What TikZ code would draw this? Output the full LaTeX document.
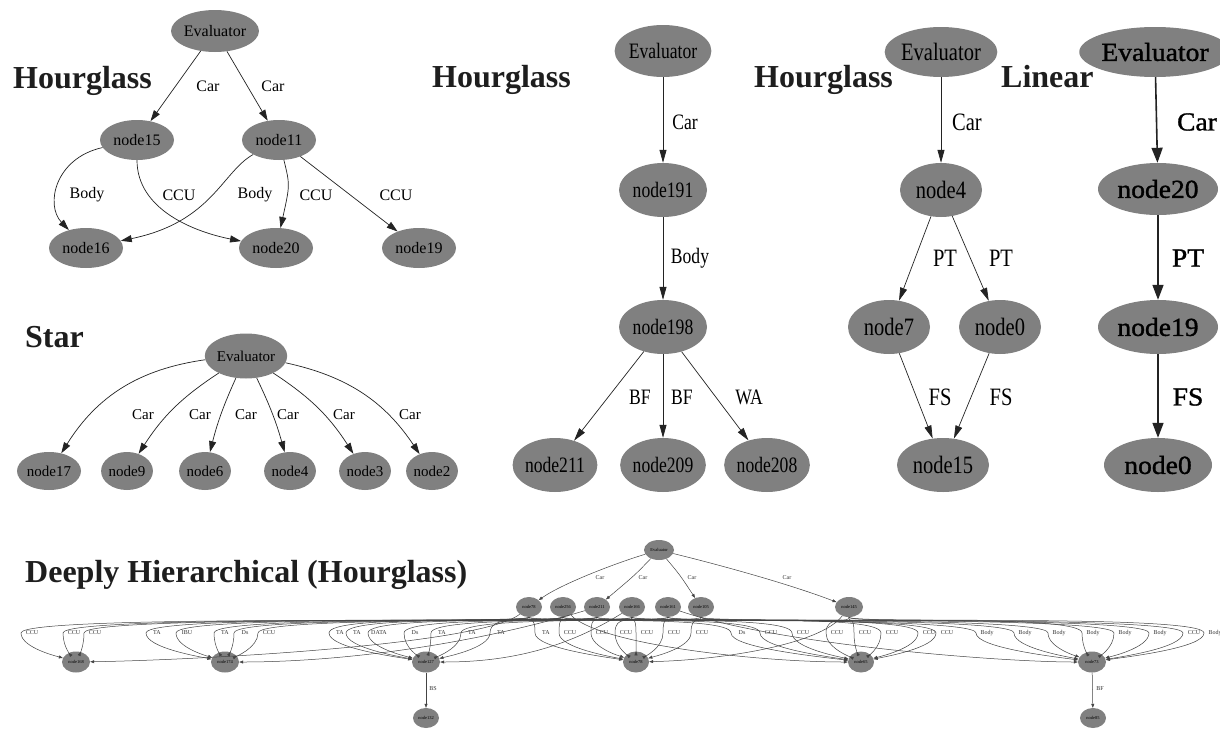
\documentclass[tikz,border=0pt]{standalone}
\usepackage{fontspec}
\setmainfont{Liberation Serif}
\newfontfamily\midfont[FakeStretch=0.8]{Liberation Serif}
\newfontfamily\thirdfont[FakeStretch=0.82]{Liberation Serif}
\newfontfamily\linfont[FakeStretch=1.06,FakeBold=1.2]{Liberation Serif}
\usetikzlibrary{shapes.geometric,arrows.meta,calc}
\definecolor{nodefill}{RGB}{128,128,128}
\definecolor{edgecol}{RGB}{35,35,35}
\definecolor{titlecol}{RGB}{30,30,30}

\tikzset{
  title/.style={font=\fontsize{32}{32}\selectfont\bfseries, anchor=base west, inner sep=0, text=titlecol},
  gnode/.style={ellipse, fill=nodefill, draw=none, inner sep=0, text=black},
  sz/.style 2 args={minimum width=#1pt, minimum height=#2pt},
  % small hourglass and star
  tlnode/.style={gnode, font=\fontsize{16}{16}\selectfont},
  tllab/.style={inner sep=0, font=\fontsize{16}{16}\selectfont},
  tledge/.style={draw=edgecol, line width=0.7pt, -{Triangle[length=11pt,width=7pt]}},
  stnode/.style={gnode, font=\fontsize{15}{15}\selectfont},
  stlab/.style={inner sep=0, font=\fontsize{15}{15}\selectfont},
  % tall hourglass
  midnode/.style={gnode, font=\midfont\fontsize{22}{22}\selectfont},
  midlab/.style={inner sep=0, font=\midfont\fontsize{22}{22}\selectfont},
  midedge/.style={draw=edgecol, line width=0.7pt, -{Triangle[length=13pt,width=7pt]}},
  % diamond hourglass
  thnode/.style={gnode, font=\thirdfont\fontsize{25}{25}\selectfont},
  thlab/.style={inner sep=0, font=\thirdfont\fontsize{25}{25}\selectfont},
  % linear chain
  linnode/.style={gnode, font=\linfont\fontsize{26}{26}\selectfont},
  linlab/.style={inner sep=0, font=\linfont\fontsize{26}{26}\selectfont},
  linedge/.style={draw=edgecol, line width=1.6pt, -{Triangle[length=15pt,width=11pt]}},
  % deep hierarchy
  dnode/.style={gnode, font=\fontsize{4.5}{4.5}\selectfont},
  dlab/.style={inner sep=0, font=\fontsize{6}{6}\selectfont, text=black!80},
  dedge/.style={draw=edgecol!85, line width=0.5pt, -{Triangle[length=4pt,width=3pt]}},
}

\begin{document}
\begin{tikzpicture}[x=1pt,y=-1pt]
\fill[white] (0,0) rectangle (1220,728);
\useasboundingbox (0,0) rectangle (1220,728);

% ---------- titles ----------
\node[title] (t1) at (13,88) {Hourglass};
\node[title] (t2) at (432,87) {Hourglass};
\node[title] (t3) at (754,87) {Hourglass};
\node[title] (t4) at (1001,87) {Linear};
\node[title] (t5) at (25,347) {Star};
\node[title] (t6) at (25,582) {Deeply Hierarchical (Hourglass)};

% ---------- small hourglass ----------
\node[tlnode, sz={86}{42}] (a0) at (215,31) {Evaluator};
\node[tlnode, sz={74}{40}] (a15) at (137,140) {node15};
\node[tlnode, sz={74}{40}] (a11) at (279,140) {node11};
\node[tlnode, sz={74}{40}] (a16) at (86,248) {node16};
\node[tlnode, sz={74}{40}] (a20) at (276,248) {node20};
\node[tlnode, sz={74}{40}] (a19) at (419,248) {node19};
\draw[tledge] (a0) -- (a15);
\draw[tledge] (a0) -- (a11);
\draw[tledge] (a15) .. controls (55,158) and (45,205) .. (a16);
\draw[tledge] (a15) .. controls (137,210) and (195,232) .. (a20);
\draw[tledge] (a11) .. controls (222,172) and (212,222) .. (a16);
\draw[tledge] (a11) .. controls (290,185) .. (a20);
\draw[tledge] (a11) -- (a19);
\node[tllab] (la1) at (208,86) {Car};
\node[tllab] (la2) at (273,86) {Car};
\node[tllab] (la3) at (87,195) {Body};
\node[tllab] (la4) at (179,195) {CCU};
\node[tllab] (la5) at (255,195) {Body};
\node[tllab] (la6) at (316,195) {CCU};
\node[tllab] (la7) at (396,195) {CCU};

% ---------- star ----------
\node[stnode, sz={75}{45}] (s0) at (246,356) {Evaluator};
\node[stnode, sz={64}{38}] (s17) at (49,471) {node17};
\node[stnode, sz={50}{38}] (s9) at (127,471) {node9};
\node[stnode, sz={50}{38}] (s6) at (205,471) {node6};
\node[stnode, sz={50}{38}] (s4) at (290,471) {node4};
\node[stnode, sz={50}{38}] (s3) at (365,471) {node3};
\node[stnode, sz={50}{38}] (s2) at (432,471) {node2};
\draw[tledge] (s0) to[bend right=25] (s17);
\draw[tledge] (s0) to[bend right=12] (s9);
\draw[tledge] (s0) to[bend right=5] (s6);
\draw[tledge] (s0) to[bend left=5] (s4);
\draw[tledge] (s0) to[bend left=12] (s3);
\draw[tledge] (s0) to[bend left=22] (s2);
\node[stlab] (ls1) at (143,415) {Car};
\node[stlab] (ls2) at (200,415) {Car};
\node[stlab] (ls3) at (246,415) {Car};
\node[stlab] (ls4) at (288,415) {Car};
\node[stlab] (ls5) at (344,415) {Car};
\node[stlab] (ls6) at (410,415) {Car};

% ---------- tall hourglass ----------
\node[midnode, sz={92}{52}] (m0) at (663,51) {Evaluator};
\node[midnode, sz={88}{54}] (m191) at (663,190) {node191};
\node[midnode, sz={88}{54}] (m198) at (663,327) {node198};
\node[midnode, sz={83}{54}] (m211) at (555,465) {node211};
\node[midnode, sz={85}{54}] (m209) at (663,465) {node209};
\node[midnode, sz={77}{54}] (m208) at (767,465) {node208};
\draw[midedge] (m0) -- (m191);
\draw[midedge] (m191) -- (m198);
\draw[midedge] (m198) -- (m211);
\draw[midedge] (m198) -- (m209);
\draw[midedge] (m198) -- (m208);
\node[midlab] (lm1) at (685,122) {Car};
\node[midlab] (lm2) at (690,258) {Body};
\node[midlab] (lm3) at (640,397) {BF};
\node[midlab] (lm4) at (682,397) {BF};
\node[midlab] (lm5) at (749,397) {WA};

% ---------- diamond hourglass ----------
\node[thnode, sz={106}{50}] (h0) at (941,52) {Evaluator};
\node[thnode, sz={82}{54}] (h4) at (941,190) {node4};
\node[thnode, sz={82}{54}] (h7) at (889,327) {node7};
\node[thnode, sz={82}{54}] (hn0) at (1000,327) {node0};
\node[thnode, sz={92}{54}] (h15) at (943,465) {node15};
\draw[midedge] (h0) -- (h4);
\draw[midedge] (h4) -- (h7);
\draw[midedge] (h4) -- (hn0);
\draw[midedge] (h7) -- (h15);
\draw[midedge] (hn0) -- (h15);
\node[thlab] (lh1) at (967,122) {Car};
\node[thlab] (lh2) at (945,258) {PT};
\node[thlab] (lh3) at (1001,258) {PT};
\node[thlab] (lh4) at (940,397) {FS};
\node[thlab] (lh5) at (1001,397) {FS};

% ---------- linear chain ----------
\node[linnode, sz={128}{50}] (l0) at (1155,52) {Evaluator};
\node[linnode, sz={120}{52}] (l20) at (1158,189) {node20};
\node[linnode, sz={120}{54}] (l19) at (1158,327) {node19};
\node[linnode, sz={108}{54}] (ln0) at (1158,465) {node0};
\draw[linedge] (l0) -- (l20);
\draw[linedge] (l20) -- (l19);
\draw[linedge] (l19) -- (ln0);
\node[linlab] (ll1) at (1197,122) {Car};
\node[linlab] (ll2) at (1188,258) {PT};
\node[linlab] (ll3) at (1188,397) {FS};

% ---------- deep hierarchy ----------
\node[dnode, sz={30}{20}] (d0) at (659,550) {Evaluator};
\node[dnode, sz={26}{20}] (r2a) at (529,607) {node78};
\node[dnode, sz={26}{20}] (r2b) at (563,607) {node256};
\node[dnode, sz={26}{20}] (r2c) at (597,607) {node211};
\node[dnode, sz={26}{20}] (r2d) at (632,607) {node166};
\node[dnode, sz={26}{20}] (r2e) at (668,607) {node161};
\node[dnode, sz={26}{20}] (r2f) at (701,607) {node105};
\node[dnode, sz={28}{20}] (r2g) at (849,607) {node145};
\node[dnode, sz={28}{21}] (n168) at (76,662) {node168};
\node[dnode, sz={28}{21}] (n174) at (225,662) {node174};
\node[dnode, sz={28}{21}] (n127) at (426,662) {node127};
\node[dnode, sz={26}{21}] (n78) at (636,662) {node78};
\node[dnode, sz={26}{21}] (n65) at (861,662) {node65};
\node[dnode, sz={28}{21}] (n73) at (1092,662) {node73};
\node[dnode, sz={26}{20}] (n132) at (426,718) {node132};
\node[dnode, sz={26}{20}] (n85) at (1093,718) {node85};

\draw[dedge] (d0) .. controls (610,565) and (560,585) .. (r2a);
\draw[dedge] (d0) .. controls (635,575) .. (r2c);
\draw[dedge] (d0) .. controls (680,575) .. (r2f);
\draw[dedge] (d0) .. controls (740,570) and (800,588) .. (r2g);
\node[dlab] (dc1) at (600,578) {Car};
\node[dlab] (dc2) at (643,578) {Car};
\node[dlab] (dc3) at (692,578) {Car};
\node[dlab] (dc4) at (787,578) {Car};

\foreach \lab/\lx/\s/\sx/\t/\tx in {
  CCU/30/r2a/529/n168/76, CCU/72/r2b/563/n168/76, CCU/93/r2c/597/n168/76,
  TA/155/r2a/529/n174/225, IBU/185/r2b/563/n174/225, TA/223/r2c/597/n174/225,
  Ds/243/r2d/632/n174/225, CCU/267/r2e/668/n174/225,
  TA/338/r2a/529/n127/426, TA/355/r2b/563/n127/426, DATA/377/r2c/597/n127/426,
  Ds/413/r2d/632/n127/426, TA/440/r2e/668/n127/426, TA/470/r2f/701/n127/426,
  TA/499/r2a/529/n127/426,
  TA/544/r2a/529/n78/636, CCU/568/r2b/563/n78/636, CCU/600/r2c/597/n78/636,
  CCU/624/r2d/632/n78/636, CCU/645/r2d/632/n78/636, CCU/672/r2e/668/n78/636,
  CCU/700/r2f/701/n78/636,
  Ds/740/r2a/529/n65/861, CCU/769/r2b/563/n65/861, CCU/801/r2c/597/n65/861,
  CCU/835/r2g/849/n65/861, CCU/863/r2g/849/n65/861, CCU/890/r2f/701/n65/861,
  CCU/927/r2e/668/n65/861, CCU/945/r2d/632/n65/861,
  Body/985/r2a/529/n73/1092, Body/1023/r2b/563/n73/1092, Body/1057/r2c/597/n73/1092,
  Body/1091/r2g/849/n73/1092, Body/1123/r2d/632/n73/1092, Body/1158/r2e/668/n73/1092,
  CCU/1192/r2f/701/n73/1092, Body/1213/r2g/849/n73/1092}
{
  \draw[dedge] (\s) .. controls (\sx,624) and (\lx-9,614) .. (\lx-9,633)
    .. controls (\lx-9,648) and ({0.3*(\lx-9)+0.7*\tx},657) .. (\t);
  \node[dlab] (dl\lx) at (\lx+2,633) {\lab};
}

% long low edges entering the lower row from the side
\draw[dedge] (r2a) .. controls (480,645) and (200,660) .. (n168);
\draw[dedge] (r2c) .. controls (460,648) and (330,662) .. (n174);
\draw[dedge] (r2d) .. controls (560,652) and (500,662) .. (n127);
\draw[dedge] (r2g) .. controls (820,645) and (720,660) .. (n78);
\draw[dedge] (r2b) .. controls (600,645) and (760,662) .. (n65);
\draw[dedge] (r2e) .. controls (780,645) and (1000,662) .. (n73);

\draw[dedge] (n127) -- (n132);
\draw[dedge] (n73) -- (n85);
\node[dlab] (dbs) at (433,689) {BS};
\node[dlab] (dbf) at (1100,689) {BF};
\end{tikzpicture}
\end{document}
